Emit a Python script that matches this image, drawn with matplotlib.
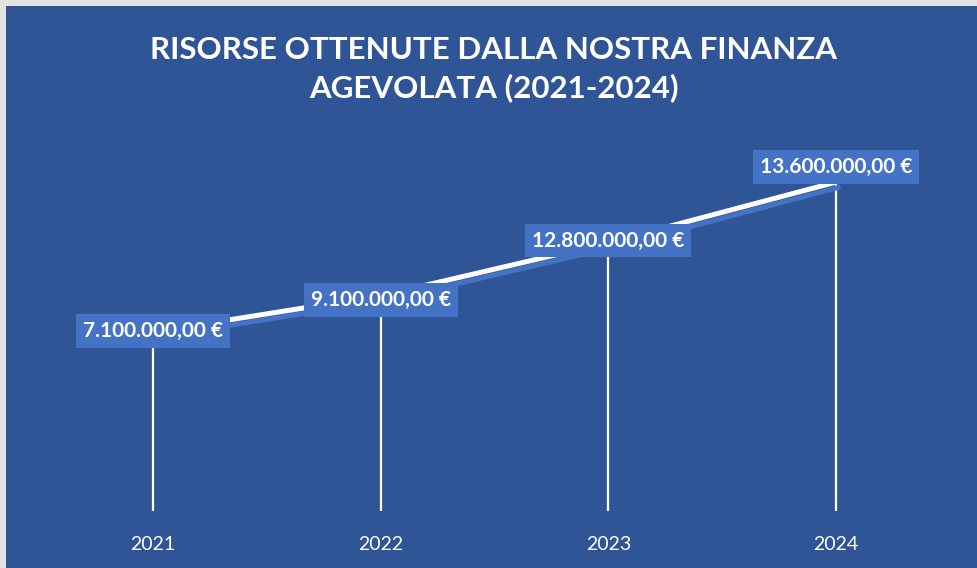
import matplotlib
matplotlib.use("Agg")
import matplotlib.pyplot as plt
import matplotlib.patheffects as pe
from matplotlib.patches import Rectangle

# Data
years = ["2021", "2022", "2023", "2024"]
amounts = [7100000, 9100000, 12800000, 13600000]
amount_labels = ["7.100.000,00 €", "9.100.000,00 €", "12.800.000,00 €", "13.600.000,00 €"]
# height of each point as drawn in the reference (millions, hidden axis 0..16)
drawn_level = [7.4, 8.9, 11.1, 13.6]

title = "RISORSE OTTENUTE DALLA NOSTRA FINANZA\nAGEVOLATA (2021-2024)"

# Colors
BG = "#2F5597"
BOX = "#4472C4"
BORDER = "#E3E3E3"

font = ["Lato", "DejaVu Sans"]

fig = plt.figure(figsize=(9.77, 5.68), dpi=100)
fig.patch.set_facecolor(BORDER)
fig.patches.append(Rectangle((6 / 977, 0), 1, 1 - 6 / 568, transform=fig.transFigure,
                             facecolor=BG, edgecolor="none", zorder=-5))

ax = fig.add_axes([39 / 977, 57 / 568, 911 / 977, 387 / 568])
ax.set_zorder(2)
ax.patch.set_alpha(0)

x = list(range(len(years)))

# drop lines
ax.vlines(x, 0, drawn_level, color="white", linewidth=1.6, zorder=2)

# main line with shadow
ax.plot(x, drawn_level, color="white", linewidth=3.6, solid_capstyle="butt", zorder=3,
        path_effects=[pe.SimpleLineShadow(offset=(3, -3.5), shadow_color=BOX, alpha=1.0),
                      pe.Normal()])

# data labels (vertical nudge in pixels)
label_dy = [1, -4, 2, 15]
for i, lab in enumerate(amount_labels):
    ax.annotate(lab, (x[i], drawn_level[i]), xytext=(0, label_dy[i]), textcoords="offset pixels",
                ha="center", va="center", color="white", fontsize=15, fontweight="bold",
                family=font, zorder=5,
                bbox=dict(boxstyle="square,pad=0.33", facecolor=BOX, edgecolor="none"))

ax.set_xlim(-0.5, 3.5)
ax.set_ylim(0, 16)
ax.set_xticks(x)
ax.set_xticklabels(years, color="white", fontsize=14, family=font)
ax.tick_params(axis="x", length=0, pad=18)
ax.set_yticks([])
for s in ax.spines.values():
    s.set_visible(False)

fig.text(494 / 977, 1 - 69 / 568, title, ha="center", va="center", color="white",
         fontsize=22.5, fontweight="bold", family=font, linespacing=1.38)

fig.savefig("out.png", dpi=100, facecolor=fig.get_facecolor())
